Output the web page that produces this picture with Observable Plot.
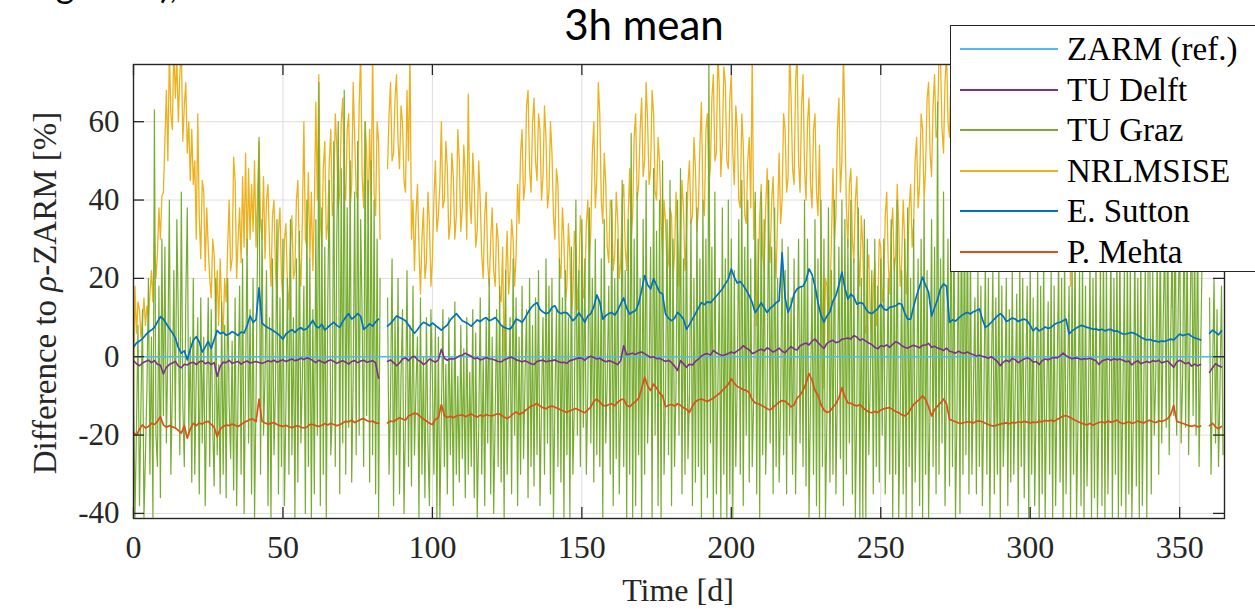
<!DOCTYPE html>
<html><head><meta charset="utf-8">
<script src="https://cdn.jsdelivr.net/npm/d3@7"></script>
<script src="https://cdn.jsdelivr.net/npm/@observablehq/plot@0.6"></script>
<style>
body{margin:0;background:#fff;}
#wrap{position:relative;width:1255px;height:613px;overflow:hidden;color:#262626;font-family:"Liberation Serif",serif;}
#chart{position:absolute;left:0;top:0;}
.ov{position:absolute;white-space:nowrap;}
#frag1,#frag2{font-family:Lato,sans-serif;font-size:36px;top:-34px;line-height:36px;color:#000}
#title{font-family:Lato,"Open Sans",sans-serif;font-size:42px;left:644px;top:2px;transform:translateX(-50%);color:#000;line-height:44px}
#ylab{font-size:33px;left:45px;top:293px;transform:translate(-50%,-50%) rotate(-90deg);line-height:33px}
#xlab{font-size:32px;left:678px;top:590px;transform:translate(-50%,-50%);line-height:32px}
#legend{position:absolute;left:950px;top:25px;width:330px;height:247px;background:#fff;border:1.4px solid #262626;box-sizing:border-box}
.lrow{position:absolute;left:0;height:40px;width:320px;}
.lline{position:absolute;left:9px;width:98px;height:2px;top:19px}
.ltxt{position:absolute;left:116px;top:0;font-size:33px;line-height:40px;color:#000;white-space:nowrap}
</style></head>
<body><div id="wrap"><div id="chart"></div></div>
<script>
// ---- data ----
const xTicks = [0, 50, 100, 150, 200, 250, 300, 350];
const yTicks = [-40, -20, 0, 20, 40, 60];
const seriesNames = ["ZARM (ref.)", "TU Delft", "TU Graz", "NRLMSISE", "E. Sutton", "P. Mehta"];
const seriesColors = ["#4DBEEE", "#7E2F8E", "#77AC30", "#EDB120", "#0072BD", "#D95319"];

// ZARM reference (constant zero)
const zarmDays = [0, 365];
const zarmVals = [0, 0];

// daily values, day 0..364
const sutton = [
2.4,3.5,4.0,4.6,5.5,6.3,6.8,7.5,8.9,10.2,
9.6,8.4,7.2,6.1,4.8,2.3,0.9,1.5,-0.8,1.9,
4.2,5.1,3.8,1.2,2.5,3.9,2.1,4.4,6.7,5.9,
6.2,5.5,5.8,6.4,6.0,5.4,6.3,6.1,7.9,10.4,
8.8,9.5,17.6,8.6,7.9,7.4,7.0,6.5,6.0,5.3,
4.5,5.8,6.4,6.9,6.2,7.0,7.4,6.8,7.2,8.1,
9.3,7.8,7.4,8.3,6.8,7.5,8.2,8.8,8.0,7.5,
9.0,10.1,11.0,9.6,10.2,11.0,10.3,7.0,7.6,8.4,
7.8,8.9,9.6,NaN,NaN,7.8,8.5,9.4,10.4,10.0,
9.6,9.2,8.1,7.0,6.0,6.9,8.0,8.8,8.4,7.9,
8.6,8.0,7.4,6.8,7.5,8.1,9.4,10.2,11.0,10.1,
9.2,8.8,8.4,7.8,8.6,9.4,9.0,9.6,10.0,9.2,
9.5,10.0,9.1,8.0,7.5,7.2,7.0,8.1,9.6,9.3,
8.8,9.9,11.3,12.5,13.3,13.8,12.1,11.4,11.0,11.3,
12.6,13.0,11.5,11.0,11.3,11.2,10.3,9.2,10.0,11.2,
10.1,8.8,10.4,11.0,12.7,15.8,14.0,9.6,10.5,11.0,
11.3,10.6,11.8,13.5,15.0,12.4,10.9,11.4,11.8,13.6,
17.0,20.7,18.4,17.3,19.9,18.2,16.5,16.0,10.9,9.8,
9.2,9.8,11.3,10.6,9.6,7.0,8.2,9.6,11.0,12.4,
13.8,13.3,14.0,13.8,14.6,15.5,16.4,17.3,18.6,19.8,
22.4,20.3,18.8,19.2,18.2,17.0,15.6,13.8,11.3,12.4,
13.8,12.5,11.3,12.4,13.0,13.8,14.3,26.5,15.0,11.3,
13.2,16.0,17.3,17.8,18.0,19.5,22.4,21.0,18.0,13.8,
10.6,8.8,10.4,11.5,14.2,15.6,18.3,21.6,17.5,14.7,
16.0,15.2,13.4,13.8,13.6,12.2,11.3,11.0,11.6,12.3,
13.4,12.2,11.9,12.6,12.8,13.0,13.6,13.4,11.2,9.6,
9.6,12.8,15.6,18.0,20.3,18.2,16.5,10.4,12.5,14.6,
17.4,18.6,18.0,8.8,9.4,9.1,9.8,10.5,11.0,11.3,
10.9,11.5,11.8,12.2,9.6,7.5,8.0,8.8,9.6,10.4,
11.0,10.3,9.0,9.4,9.9,9.6,9.0,9.4,9.6,9.2,
8.0,6.6,7.4,6.6,7.0,7.6,7.2,7.5,8.2,8.6,
8.8,9.2,9.6,5.8,6.6,7.1,7.6,8.0,7.8,7.5,
7.3,7.0,7.1,6.8,7.0,6.6,6.9,7.0,6.5,6.6,
6.2,5.8,5.8,6.0,6.2,5.9,5.5,5.0,4.6,4.3,
4.4,4.1,4.0,3.8,4.0,3.9,4.2,4.5,4.3,5.0,
5.8,5.4,5.6,5.8,5.2,4.8,4.6,4.3,NaN,NaN,
6.0,6.8,6.2,5.6,6.6];

const delft = [
-1.0,-1.8,-2.3,-1.6,-1.2,-0.9,-1.5,-1.0,-1.9,-2.2,
-4.4,-2.7,-2.0,-1.6,-1.2,-2.4,-2.8,-1.9,-2.1,-1.6,
-1.4,-2.0,-1.3,-1.1,-1.8,-1.4,-2.0,-1.5,-5.0,-2.5,
-1.4,-1.5,-0.9,-1.7,-1.4,-1.2,-1.9,-1.4,-1.1,-1.6,
-1.4,-1.2,-1.5,-1.7,-1.4,-1.0,-1.3,-0.9,-1.4,-1.1,
-0.8,-1.2,-0.9,-0.6,-1.0,-0.8,-0.4,-0.7,-0.3,-0.5,
-1.0,-1.5,-0.9,-1.3,-1.6,-1.1,-0.8,-1.2,-1.7,-1.3,
-1.0,-1.4,-1.9,-1.2,-1.0,-1.5,-1.1,-0.9,-1.4,-1.2,
-1.0,-1.6,-5.5,NaN,NaN,-1.2,-0.8,-1.5,-2.3,-1.6,
-0.6,-0.3,-1.0,-0.2,0.1,-0.8,-1.2,-2.0,-1.5,-0.6,
-1.0,-1.4,-0.8,1.9,-0.4,-0.9,-0.5,-0.6,-0.3,0.2,
0.4,0.9,0.5,0.1,-0.5,-0.3,-0.8,-0.6,-0.2,-0.5,
-0.6,-0.9,-1.2,-1.3,-0.8,-0.5,-0.1,-0.3,-0.8,-1.0,
-1.3,-1.0,-1.4,-1.8,-2.0,-1.2,-1.0,-0.9,-1.3,-1.1,
-1.0,-0.8,-1.2,-1.5,-1.4,-1.7,-1.0,-0.8,-0.5,-0.3,
-0.4,-0.9,-0.2,0.1,-0.2,-0.6,-0.4,-0.9,-1.3,-1.0,
-1.2,-1.6,-2.0,-1.0,2.8,0.5,0.7,0.9,0.6,1.0,
1.2,0.8,0.3,-0.2,0.0,-0.5,-0.4,-0.8,-1.2,-0.9,
-1.5,-2.4,-3.5,-1.0,-1.8,-2.7,-1.9,-2.1,-1.2,-0.6,
0.2,0.6,0.8,0.4,1.6,1.0,0.6,0.3,0.5,0.8,
1.2,0.9,1.5,2.0,2.8,2.2,1.8,0.8,1.1,1.6,
1.9,1.5,2.3,1.8,1.2,1.6,2.2,1.4,1.0,1.9,
2.6,2.0,1.7,2.8,3.2,3.5,3.0,4.0,4.5,3.6,
2.8,2.1,3.4,3.9,4.2,3.6,3.8,4.5,4.6,4.8,
4.5,5.4,5.0,4.2,4.5,4.0,3.5,3.1,2.4,2.0,
2.8,2.6,3.0,2.4,3.2,3.8,3.5,2.8,2.4,2.2,
2.6,2.9,2.6,2.3,2.9,3.0,3.4,2.4,2.7,2.2,
2.0,1.6,2.2,1.4,1.2,0.9,1.4,1.0,0.9,1.2,
0.8,0.5,0.2,0.4,0.1,-0.1,-0.4,0.0,-0.6,-1.2,
-2.3,-1.4,-0.9,-1.3,-0.4,-0.8,-1.5,-1.0,-0.6,-0.3,
-0.6,-1.4,-1.2,-2.0,-1.0,-0.6,-0.8,-0.4,-0.2,-0.3,
0.2,0.9,0.3,-0.2,-0.5,-0.3,-0.4,-0.7,-0.5,-0.6,
-0.4,-0.7,-1.0,-2.0,-1.1,-0.8,-0.6,-0.9,-0.5,-0.8,
-0.6,-0.9,-1.3,-1.1,-2.1,-1.4,-1.0,-1.8,-1.5,-1.2,
-1.5,-1.0,-1.2,-0.9,-1.6,-1.3,-1.1,-1.9,-2.7,-1.4,
-0.9,-1.3,-1.8,-1.5,-2.4,-1.9,-2.3,-2.0,NaN,NaN,
-4.0,-2.8,-1.8,-2.3,-2.6];

const mehta = [
-19.3,-20.0,-18.5,-17.4,-18.2,-17.8,-17.0,-17.3,-16.5,-15.3,
-17.4,-18.0,-17.6,-17.9,-18.2,-18.8,-19.5,-17.6,-20.8,-18.4,
-17.0,-17.6,-16.9,-17.2,-16.7,-16.5,-17.3,-18.0,-20.4,-18.5,
-17.8,-17.4,-17.6,-17.2,-17.5,-17.8,-17.3,-16.8,-16.4,-16.0,
-15.9,-16.6,-10.8,-16.5,-16.9,-17.2,-17.0,-16.8,-17.3,-17.6,
-17.8,-17.5,-17.9,-18.1,-17.8,-17.6,-18.0,-18.2,-18.0,-17.3,
-17.3,-17.6,-17.8,-17.5,-17.1,-17.4,-17.0,-17.3,-17.6,-17.4,
-16.9,-16.5,-16.6,-16.2,-16.8,-16.4,-16.0,-15.8,-16.3,-16.6,
-16.4,-16.9,-17.0,NaN,NaN,-16.9,-16.4,-16.6,-16.0,-15.6,
-15.9,-16.2,-15.1,-14.8,-14.4,-14.6,-15.3,-15.9,-16.4,-17.0,
-17.3,-16.0,-15.6,-12.2,-15.0,-15.5,-15.2,-15.6,-15.1,-15.0,
-14.8,-15.3,-15.0,-14.6,-15.1,-15.4,-14.9,-15.2,-14.8,-15.0,
-15.1,-14.8,-14.5,-14.9,-15.4,-15.8,-15.3,-14.6,-14.1,-14.7,
-14.4,-13.8,-13.2,-12.6,-12.4,-11.9,-12.6,-13.0,-13.3,-12.8,
-12.6,-12.9,-13.2,-13.6,-13.9,-14.2,-13.8,-13.5,-13.2,-13.6,
-14.0,-14.3,-13.6,-12.8,-11.4,-10.8,-11.6,-12.4,-12.6,-12.2,
-12.0,-12.5,-11.6,-11.0,-10.8,-12.4,-12.8,-12.0,-11.4,-10.6,
-8.2,-5.2,-7.5,-8.6,-7.0,-8.0,-9.3,-10.0,-12.8,-12.4,
-12.2,-12.6,-12.0,-12.4,-13.0,-13.4,-14.2,-12.6,-11.5,-11.0,
-10.8,-11.1,-11.4,-11.0,-10.6,-10.0,-9.4,-8.6,-7.9,-7.0,
-5.6,-6.8,-7.6,-8.0,-8.4,-8.6,-9.2,-11.0,-11.8,-12.0,
-12.4,-12.8,-13.3,-13.6,-12.9,-12.3,-11.6,-11.2,-11.4,-12.0,
-12.8,-12.3,-10.6,-9.8,-8.6,-6.8,-4.3,-6.0,-8.6,-9.9,
-12.2,-13.6,-14.2,-13.9,-12.9,-12.0,-10.5,-7.9,-10.2,-11.8,
-11.9,-12.3,-12.6,-12.2,-13.0,-13.6,-14.1,-14.3,-14.0,-14.2,
-13.6,-13.3,-13.1,-13.0,-13.5,-14.0,-14.3,-14.8,-15.1,-14.6,
-13.4,-12.2,-11.5,-10.8,-10.0,-10.9,-12.8,-15.1,-13.5,-12.6,
-11.8,-10.8,-12.0,-16.0,-16.3,-16.6,-16.9,-17.0,-16.8,-16.6,
-16.7,-16.9,-16.5,-16.4,-16.6,-17.0,-17.3,-17.6,-17.7,-17.4,
-17.2,-17.0,-16.9,-17.1,-16.8,-16.9,-16.6,-16.8,-16.5,-16.7,
-16.9,-16.7,-16.8,-16.5,-16.6,-16.3,-16.4,-16.2,-16.5,-16.0,
-15.6,-15.2,-15.0,-15.4,-15.8,-16.2,-16.6,-16.9,-17.2,-17.4,
-17.0,-17.5,-17.1,-16.8,-16.6,-16.9,-16.4,-16.7,-16.5,-16.2,
-16.8,-17.1,-16.9,-16.6,-17.0,-16.8,-16.4,-16.7,-16.9,-16.5,
-16.2,-16.6,-16.8,-16.4,-16.5,-16.2,-15.8,-14.8,-12.4,-16.4,
-16.8,-17.0,-17.3,-17.6,-17.8,-17.5,-17.9,-17.7,NaN,NaN,
-17.6,-17.0,-17.9,-18.4,-17.8];

// half-day values, t = 0, 0.5, ..., 364.5
const nrlmsise = [
-11,18,6,14,12,5,9,15,8,13,10,16,22,14,30,20,26,38,30,41,
42,55,68,50,78,62,58,80,66,76,60,72,79,55,64,70,52,60,45,58,
44,50,30,62,36,25,45,42,22,38,28,20,15,30,26,10,22,8,25,12,
6,20,14,28,40,22,25,51,45,20,30,38,24,46,28,52,26,48,30,44,
32,50,28,42,55,34,30,46,25,40,44,28,18,36,40,22,15,32,38,20,
14,30,34,18,12,28,36,20,22,40,45,25,18,35,60,30,28,47,25,42,
22,38,65,40,72,35,28,48,55,30,34,50,58,36,40,62,54,38,42,60,
66,45,40,58,62,38,44,70,56,42,40,64,78,46,38,60,52,34,58,40,
78,42,36,60,55,30,NaN,NaN,NaN,NaN,48,62,70,50,52,66,72,55,48,64,
60,45,42,68,50,78,30,40,22,36,44,28,16,30,38,20,24,42,34,18,
25,40,50,32,36,44,60,38,40,55,48,30,34,52,46,30,36,58,50,32,
38,54,46,30,67,40,34,52,44,28,32,50,40,26,20,36,42,24,18,30,
38,22,18,34,30,16,14,28,-1,20,32,16,22,35,30,18,26,44,34,52,
58,40,44,64,68,48,42,60,66,50,45,62,58,40,46,64,56,38,42,60,
52,36,30,48,44,24,20,38,30,14,18,34,26,10,16,32,28,12,20,36,
30,15,18,34,40,24,32,52,60,38,45,70,62,40,34,52,44,28,24,40,
38,22,26,42,35,20,24,40,44,28,22,36,48,30,36,56,62,40,44,58,
66,46,50,70,60,44,48,68,62,42,40,56,50,34,26,40,34,22,24,38,
36,20,26,42,32,18,28,45,38,22,30,44,50,34,36,56,48,32,38,54,
65,40,36,58,62,44,48,66,72,50,52,78,68,46,54,74,70,50,48,66,
72,52,44,64,58,40,38,62,54,36,34,50,56,38,78,30,40,8,20,36,
44,26,22,38,48,30,24,40,46,28,20,36,52,34,40,62,58,42,46,78,
66,48,44,70,78,50,42,64,72,48,40,60,66,44,38,58,62,42,36,54,
28,10,-8,20,18,4,14,30,48,30,36,58,66,42,50,78,60,38,28,44,
48,30,24,40,46,26,18,36,28,8,6,22,26,10,4,18,24,8,12,30,
28,14,18,36,42,24,16,32,38,22,26,44,34,18,24,40,30,16,22,38,
44,28,34,50,56,38,44,62,58,40,48,66,70,52,46,64,72,56,58,78,
76,58,52,70,78,60,56,74,62,20,42,28,34,50,58,40,36,52,60,42,
56,38,44,62,50,34,40,58,64,46,36,54,60,42,32,48,56,38,44,62,
52,36,40,58,46,30,38,54,60,42,34,50,56,40,44,62,48,32,36,54,
58,40,34,52,46,28,36,54,60,42,34,50,44,30,36,52,58,40,32,48,
54,36,30,46,40,26,38,18,44,28,32,50,56,38,34,48,54,36,30,46,
52,34,28,44,50,32,40,19.6,48,30,36,54,60,40,34,50,56,38,44,62,
58,40,46,64,54,38,42,60,66,48,40,56,62,44,36,52,58,40,34,50,
56,38,32,48,54,36,28,44,40,26,30,46,38,24,44,12.5,50,32,38,56,
60,42,36,52,58,40,46,64,54,38,44,62,50,34,40,56,NaN,NaN,NaN,NaN,
48,32,38,56,62,44,36,52,58,40];

const tuGraz = [
-5,-41,-18,8,-38,-12,12,-41,-25,-8,20,-30,5,-41,63,-20,-28,18,-36,30,
-15,28,-22,2,40,-30,-8,22,-18,35,10,-25,42,-12,-28,15,38,-20,5,-32,
20,-30,-5,10,-35,15,-22,5,-38,-10,15,-28,12,-18,-33,20,-25,-2,-35,14,
-30,8,-36,20,-12,-26,4,-34,15,-38,-8,18,-30,25,-40,-5,30,-22,12,-35,
20,-41,-10,28,56,-30,35,-20,-5,22,-38,10,-41,25,-25,-8,35,-35,15,-28,
30,-38,-12,20,-30,35,-25,10,-41,25,-32,32,-22,-5,18,-40,40,-28,25,-41,
12,-35,35,-20,70,-38,38,-30,28,-41,15,45,-25,-15,55,-28,30,60,-35,48,
-22,68,-30,38,-18,50,-32,-5,42,-25,55,-20,35,10,-28,60,-15,45,-32,50,
-25,40,-35,30,-41,20,NaN,NaN,NaN,NaN,15,-30,-10,25,-38,10,-25,20,-35,-5,
12,-40,-15,22,-28,8,-33,18,-25,-8,5,-41,15,-30,0,-36,10,-22,-38,12,
-5,-30,8,-41,5,-41,-15,12,-28,-2,-35,10,-25,0,-38,14,-30,-5,-32,8,
-26,2,-36,10,-30,-4,-28,12,-36,6,-41,-18,15,-30,0,-38,10,-22,20,-35,
5,-40,-15,12,-28,18,-32,8,-41,22,-30,-8,10,-35,25,-20,15,-38,5,-30,
18,-26,-5,12,-36,20,-28,8,-33,15,-25,22,-38,-12,10,-30,25,-22,18,-35,
20,-41,-10,12,-28,25,-32,15,-41,22,-25,10,-41,28,-30,-12,40,-20,22,-28,
35,-18,25,-30,-8,38,-22,20,-32,30,-25,15,-28,25,-41,35,-22,-5,18,-30,
40,-38,20,-26,30,-35,-10,45,-28,22,-41,35,-30,57,-41,30,-38,42,-25,20,
-41,35,-30,45,-22,-5,28,-41,48,-20,32,-38,40,-41,50,-30,-10,35,-25,45,
-38,30,-28,-8,40,-20,48,-35,25,-30,42,-26,-10,35,-38,20,-32,38,-28,25,
-41,40,-30,30,-36,75,-22,28,-41,42,-35,-8,20,-41,38,-30,25,-41,40,-35,
30,-41,22,-28,-5,35,-30,45,-38,28,-20,40,-32,25,-28,-10,42,-35,30,-41,
42,-25,35,-30,-8,45,-22,28,-35,38,-28,20,-32,-12,30,-25,22,-35,28,-20,
15,-30,25,-35,-5,30,-22,18,-28,40,-33,30,-41,-10,20,-30,35,-38,25,-41,
40,-28,30,-41,-15,38,-32,22,-30,40,-35,-8,28,-26,40,-38,35,-30,30,-22,
40,-35,25,-41,-12,38,-41,20,-41,35,-41,30,-25,-5,22,-35,30,-28,18,-32,
25,-20,30,-35,-8,20,-30,35,-41,25,-30,40,-41,-15,22,-35,30,-41,38,-28,
20,-41,35,-32,-10,25,-38,30,-41,40,-30,22,-41,-12,35,-28,28,-35,65,-30,
25,-22,42,-38,-5,30,-33,45,-28,35,-41,-15,30,-40,45,-30,38,-25,40,-35,
28,-30,-8,15,-35,22,-28,18,-38,-10,25,-30,20,-41,-5,22,-35,15,-30,25,
-41,18,-28,-12,20,-38,12,-32,22,-30,-8,16,-41,25,-28,20,-36,-5,18,-41,
24,-30,15,-38,-10,22,-41,18,-35,26,-41,-12,14,-30,22,-41,18,-38,-5,25,
-32,20,-41,28,-35,-8,18,-41,24,-30,30,-41,-15,22,-38,26,-41,18,-33,-10,
25,-41,20,-36,28,-41,-12,22,-38,30,-41,24,-35,-5,28,-41,20,-30,26,-41,
32,-38,-10,22,-41,28,-35,25,-41,-15,30,-33,20,-41,28,-38,-8,24,-41,30,
30,-35,22,-20,-5,28,-30,35,-22,10,30,-18,38,-25,5,32,-15,40,-20,12,
35,-22,-5,38,-18,32,-25,8,40,-15,30,-20,36,-28,0,25,NaN,NaN,NaN,NaN,
15,-30,-5,20,-22,12,-28,-8,18,-25];

// ---- build tables ----
const daily = arr => arr.map((v, i) => ({t: i, v}));
const halfDaily = arr => arr.map((v, i) => ({t: i / 2, v}));
const zarmData = zarmDays.map((t, i) => ({t, v: zarmVals[i]}));

const W = 1255, H = 613, mL = 133, mR = 31, mT = 64, mB = 95;
const plotW = W - mL - mR, plotH = H - mT - mB;
const frameC = "#262626";
const font = "Liberation Serif, Times New Roman, serif";

const lineOpts = (color, w) => ({x: "t", y: "v", stroke: color, strokeWidth: w, clip: true});

const chart = Plot.plot({
  width: W, height: H,
  marginLeft: mL, marginRight: mR, marginTop: mT, marginBottom: mB,
  x: {domain: [0, 365], label: null},
  y: {domain: [-41.3, 74.6], label: null},
  style: {background: "#fff", fontFamily: font},
  marks: [
    Plot.gridX(xTicks, {stroke: "#dedede", strokeOpacity: 1, strokeWidth: 1}),
    Plot.gridY(yTicks, {stroke: "#dedede", strokeOpacity: 1, strokeWidth: 1}),
    Plot.line(halfDaily(nrlmsise), lineOpts(seriesColors[3], 1.3)),
    Plot.line(halfDaily(tuGraz), lineOpts(seriesColors[2], 1.2)),
    Plot.line(zarmData, lineOpts(seriesColors[0], 1.4)),
    Plot.line(daily(delft), lineOpts(seriesColors[1], 1.6)),
    Plot.line(daily(sutton), lineOpts(seriesColors[4], 1.7)),
    Plot.line(daily(mehta), lineOpts(seriesColors[5], 1.7)),
    // inward ticks
    Plot.tickX(xTicks, {x: d => d, insetTop: plotH - 11, stroke: frameC, strokeWidth: 1.3}),
    Plot.tickX(xTicks, {x: d => d, insetBottom: plotH - 11, stroke: frameC, strokeWidth: 1.3}),
    Plot.tickY(yTicks, {y: d => d, insetRight: plotW - 11, stroke: frameC, strokeWidth: 1.3}),
    Plot.tickY(yTicks, {y: d => d, insetLeft: plotW - 11, stroke: frameC, strokeWidth: 1.3}),
    Plot.frame({stroke: frameC, strokeWidth: 1.4}),
    Plot.axisX(xTicks, {tickSize: 0, tickPadding: 17, fontSize: 32, fontFamily: font, fill: frameC, tickFormat: d => String(d), label: null}),
    Plot.axisY(yTicks, {tickSize: 0, tickPadding: 14, fontSize: 31, fontFamily: font, fill: frameC, tickFormat: d => String(d), label: null})
  ]
});
document.getElementById("chart").appendChild(chart);

// ---- overlays: title, axis labels, legend ----
const wrap = document.getElementById("wrap");
function addDiv(id, html, cls) {
  const d = document.createElement("div");
  d.id = id; d.className = cls || "ov"; d.innerHTML = html;
  wrap.appendChild(d); return d;
}
const f1 = addDiv("frag1", "ing"); f1.style.left = "27px";
const f2 = addDiv("frag2", "),"); f2.style.left = "160px";
addDiv("title", "3h mean");
addDiv("ylab", "Difference to <i>&rho;</i>-ZARM [%]");
addDiv("xlab", "Time [d]");
const lg = document.createElement("div");
lg.id = "legend";
seriesNames.forEach((name, i) => {
  const row = document.createElement("div");
  row.className = "lrow";
  row.style.top = (3 + i * 40.6) + "px";
  const ln = document.createElement("div");
  ln.className = "lline"; ln.style.background = seriesColors[i];
  const tx = document.createElement("div");
  tx.className = "ltxt"; tx.textContent = name;
  row.appendChild(ln); row.appendChild(tx);
  lg.appendChild(row);
});
wrap.appendChild(lg);
</script>
</body></html>
